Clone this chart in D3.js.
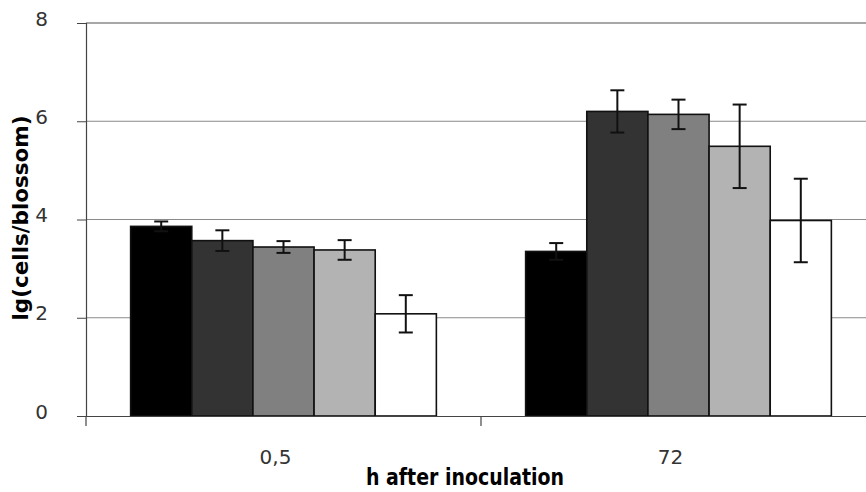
<!DOCTYPE html>
<html>
<head>
<meta charset="utf-8">
<script src="https://cdn.jsdelivr.net/npm/d3@7"></script>
<style>
  body { margin: 0; background: #fff; }
  svg { display: block; }
  .tick-label { font-family: "DejaVu Sans", sans-serif; font-size: 20px; fill: #333; }
</style>
</head>
<body>
<svg id="chart" width="866" height="492"></svg>
<script>
// --- DATA ---
const categories = ["0,5", "72"];
const seriesNames = ["s1", "s2", "s3", "s4", "s5"];
const seriesColors = ["#000000", "#333333", "#808080", "#b3b3b3", "#ffffff"];
// mean values per category, one array per series
const means = [
  [3.86, 3.35],
  [3.57, 6.20],
  [3.44, 6.14],
  [3.38, 5.49],
  [2.08, 3.98]
];
const errors = [
  [0.10, 0.17],
  [0.21, 0.43],
  [0.12, 0.30],
  [0.20, 0.85],
  [0.38, 0.85]
];
const yTicks = [0, 2, 4, 6, 8];

// --- LAYOUT ---
const svg = d3.select("#chart");
const plotLeft = 86, plotRight = 876, plotTop = 23, plotBottom = 416;

const x = d3.scaleBand().domain(categories).range([plotLeft, plotRight]);
const xInner = d3.scaleBand().domain(seriesNames).range([0, x.bandwidth()])
  .paddingInner(0).paddingOuter(0.73);
const y = d3.scaleLinear().domain([0, 8]).range([plotBottom, plotTop]);

// gridlines
svg.append("g").selectAll("line").data(yTicks.filter(t => t > 0)).join("line")
  .attr("x1", plotLeft).attr("x2", 866)
  .attr("y1", d => y(d)).attr("y2", d => y(d))
  .attr("stroke", "#8a8a8a").attr("stroke-width", d => d === 8 ? 1.6 : 1);

// bars
const rows = [];
seriesNames.forEach((s, i) => categories.forEach((c, j) => {
  rows.push({ s, c, v: means[i][j], e: errors[i][j], color: seriesColors[i] });
}));

svg.append("g").selectAll("rect").data(rows).join("rect")
  .attr("x", d => x(d.c) + xInner(d.s))
  .attr("y", d => y(d.v))
  .attr("width", xInner.bandwidth())
  .attr("height", d => y(0) - y(d.v))
  .attr("fill", d => d.color)
  .attr("stroke", "#111").attr("stroke-width", 1.6);

// error bars
const eb = svg.append("g").attr("stroke", "#111").attr("stroke-width", 2);
rows.forEach(d => {
  const cx = x(d.c) + xInner(d.s) + xInner.bandwidth() / 2;
  eb.append("line").attr("x1", cx).attr("x2", cx).attr("y1", y(d.v + d.e)).attr("y2", y(d.v - d.e));
  eb.append("line").attr("x1", cx - 7).attr("x2", cx + 7).attr("y1", y(d.v + d.e)).attr("y2", y(d.v + d.e));
  eb.append("line").attr("x1", cx - 7).attr("x2", cx + 7).attr("y1", y(d.v - d.e)).attr("y2", y(d.v - d.e));
});

// y axis
const yAxis = svg.append("g").attr("transform", `translate(${plotLeft},0)`)
  .call(d3.axisLeft(y).tickValues(yTicks).tickSize(9).tickPadding(29));
yAxis.select(".domain").attr("stroke", "#444").attr("stroke-width", 1.2);
yAxis.selectAll(".tick line").attr("stroke", "#444");
yAxis.selectAll(".tick text").attr("class", "tick-label").attr("font-family", null).attr("font-size", null)
  .attr("dy", "0.1em");

// x axis
const xAxis = svg.append("g").attr("transform", `translate(0,${plotBottom})`)
  .call(d3.axisBottom(x).tickSize(0).tickPadding(34));
xAxis.select(".domain").attr("stroke", "#444").attr("stroke-width", 1.2);
xAxis.selectAll(".tick text").attr("class", "tick-label").attr("font-family", null).attr("font-size", null)
  .attr("dx", -8);
// category separator ticks
svg.append("g").selectAll("line").data([plotLeft, x.step() + plotLeft]).join("line")
  .attr("x1", d => d).attr("x2", d => d)
  .attr("y1", plotBottom).attr("y2", plotBottom + 10)
  .attr("stroke", "#444").attr("stroke-width", 1.2);

// axis titles
svg.append("text")
  .attr("transform", `translate(28,218) rotate(-90)`)
  .attr("text-anchor", "middle")
  .style("font-family", "'DejaVu Sans', sans-serif")
  .style("font-weight", "bold").style("font-size", "21px")
  .attr("textLength", 205).attr("lengthAdjust", "spacingAndGlyphs")
  .text("lg(cells/blossom)");

svg.append("text")
  .attr("x", 465).attr("y", 485)
  .attr("text-anchor", "middle")
  .style("font-family", "'DejaVu Sans', sans-serif")
  .style("font-weight", "bold").style("font-size", "23px")
  .attr("textLength", 198).attr("lengthAdjust", "spacingAndGlyphs")
  .text("h after inoculation");
</script>
</body>
</html>
